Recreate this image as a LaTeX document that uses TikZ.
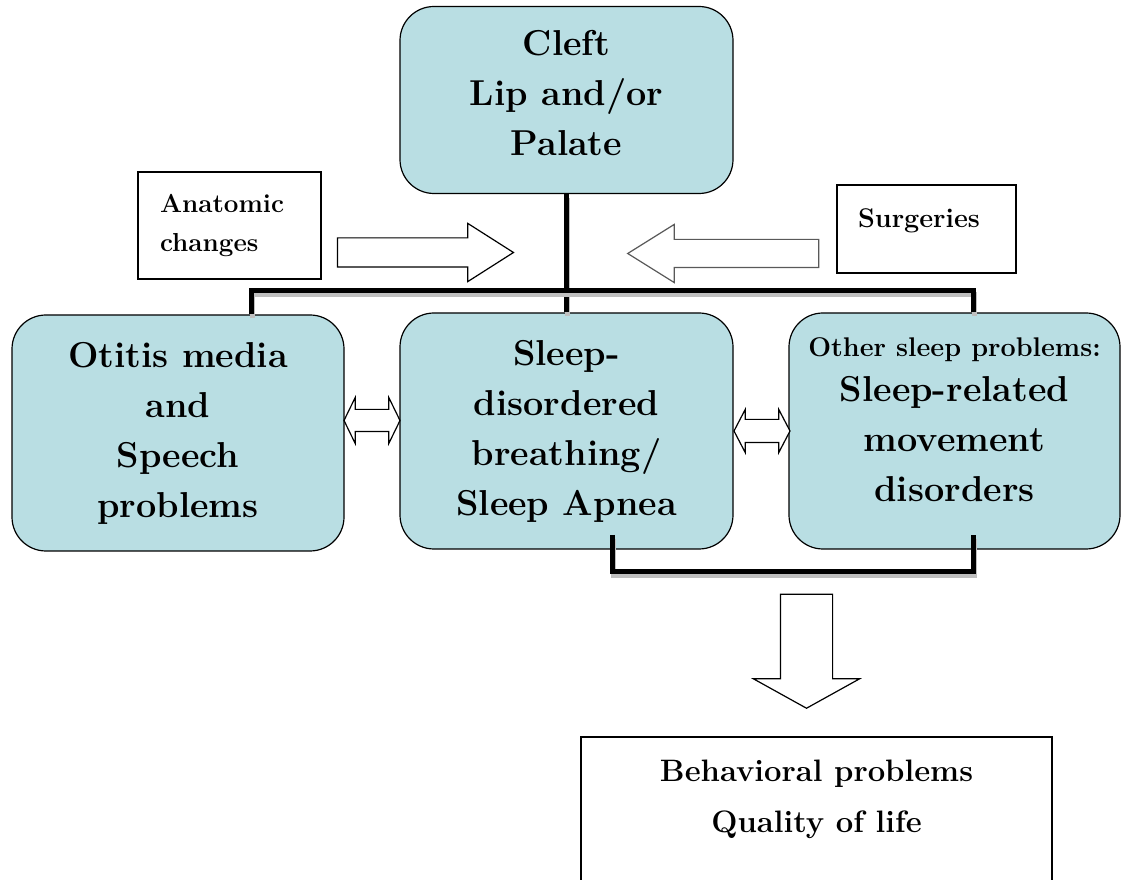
\documentclass[tikz,border=0pt]{standalone}
\usepackage{fontspec}
\setmainfont{Latin Modern Roman}
\usetikzlibrary{shapes.arrows, positioning}
\definecolor{cTeal}{RGB}{185,222,227}

\begin{document}
\begin{tikzpicture}[
  x=1pt, y=1pt,
  block/.style={draw, line width=1.2pt, fill=cTeal, rounded corners=34pt,
                align=center, inner sep=0pt,
                font=\bfseries\fontsize{36}{50}\selectfont},
  plainbox/.style={draw, line width=1.2pt, fill=white, inner sep=0pt,
                   font=\bfseries\fontsize{27}{39}\selectfont},
  fatarrow/.style={draw, line width=1.2pt, fill=white, single arrow},
  twoway/.style={draw, line width=1.2pt, fill=white, double arrow,
                 double arrow tip angle=128},
  tree/.style={line width=5pt,
               preaction={draw=black!25, line width=5pt,
                          transform canvas={shift={(1pt,-4pt)}}}}
]
\useasboundingbox (0,0) rectangle (1122,879);

%% ── TOP ──────────────────────────────────────────────────────────────────────

\node[block, minimum width=333pt, minimum height=187pt, text depth=14pt] (cleft) at (566.5,779) {
  Cleft\\Lip and/or\\Palate
};

\node[plainbox, align=left, text width=139pt, minimum width=183pt,
      minimum height=107pt, font=\bfseries\fontsize{26}{39}\selectfont] (anat) at (229.5,653.5) {
  Anatomic\\changes
};

\node[plainbox, align=left, text width=137pt, minimum width=179pt,
      minimum height=88pt, text depth=21pt] (surg) at (926.5,650) {Surgeries};

\node[fatarrow, inner sep=14pt, minimum height=176pt, minimum width=57pt,
      single arrow head extend=14.5pt, single arrow tip angle=65] (anatArrow) at (414,626.5) {};
\node[fatarrow, draw=black!65, shape border rotate=180, inner sep=13.5pt,
      minimum height=191pt, minimum width=57pt, single arrow head extend=15pt,
      single arrow tip angle=64] (surgArrow) at (734.5,625.5) {};

%% ── MIDDLE ROW ───────────────────────────────────────────────────────────────

\node[block, minimum width=332pt, minimum height=236pt] (ome) at (178,446) {
  Otitis media\\and\\Speech\\problems
};

\node[block, minimum width=333pt, minimum height=236pt] (sdb) at (566.5,448) {
  Sleep-\\disordered\\breathing/\\Sleep Apnea
};

\node[block, minimum width=331pt, minimum height=236pt, text depth=22pt] (other) at (954.5,448) {
  {\fontsize{27}{30}\selectfont Other sleep problems:}\\[-5pt]
  Sleep-related\\movement\\disorders
};

\node[twoway, inner sep=10.5pt, minimum height=56pt, minimum width=45pt,
      double arrow head extend=12pt] (twowayL) at (372,458.5) {};
\node[twoway, inner sep=11pt, minimum height=56pt, minimum width=42pt,
      double arrow head extend=10pt, double arrow tip angle=125] (twowayR) at (762,448) {};

%% ── BOTTOM ───────────────────────────────────────────────────────────────────

\node[fatarrow, shape border rotate=270, inner sep=25.5pt, minimum height=114pt,
      minimum width=105pt, single arrow head extend=27pt,
      single arrow tip angle=122] (downArrow) at (806.5,235) {};

\node[plainbox, align=center, minimum width=471pt, minimum height=170pt,
      font=\bfseries\fontsize{31}{51}\selectfont] (outcome) at (816.5,57) {
  Behavioral problems\\Quality of life\\[-14pt]\strut
};

%% ── TREE LINES ───────────────────────────────────────────────────────────────

\coordinate (barL) at (251,588);
\coordinate (barR) at (973,588);
\coordinate (brkL) at (612,307);
\coordinate (brkR) at (973,307);
\coordinate (brkLtop) at (612,344);
\coordinate (brkRtop) at (973,344);

\draw[tree] (cleft.south) -- (sdb.north);
\draw[tree] (barL |- ome.north) -- (barL) -- (barR) -- (barR |- other.north);
\draw[tree] (brkLtop) -- (brkL) -- (brkR) -- (brkRtop);

\end{tikzpicture}
\end{document}
